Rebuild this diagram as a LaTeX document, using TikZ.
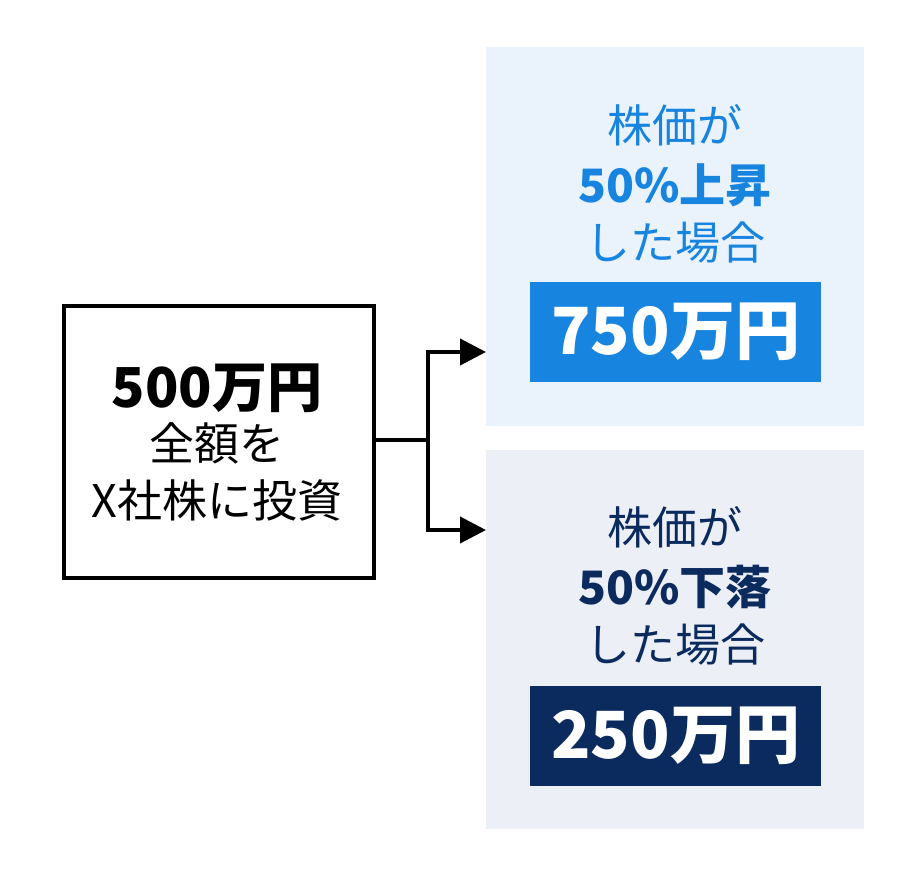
\documentclass[tikz,border=0pt]{standalone}
\usepackage{fontspec}
\setmainfont{Noto Sans CJK JP}
\usetikzlibrary{arrows.meta}
\definecolor{lb}{HTML}{EAF3FC}
\definecolor{lg}{HTML}{ECEFF5}
\definecolor{bl}{HTML}{1784E0}
\definecolor{nv}{HTML}{0B2A5E}
\begin{document}
\begin{tikzpicture}[x=1pt,y=-1pt,
  panel/.style={inner sep=0,minimum width=378,minimum height=379,anchor=north west},
  valbox/.style={inner sep=0,minimum width=291,minimum height=100,anchor=north west,text=white,font=\fontsize{65}{68}\selectfont\bfseries},
  t/.style={font=\fontsize{45}{48}\selectfont},
  tb/.style={font=\fontsize{46}{48}\selectfont\bfseries},
  arr/.style={line width=4,-{Triangle[length=26,width=26]}}]
\useasboundingbox (0,0) rectangle (920,876);
\node[panel,fill=lb] (p1) at (486,47) {};
\node[panel,fill=lg] (p2) at (486,450) {};
\node[valbox,fill=bl] (v1) at (530,282) {750万円};
\node[valbox,fill=nv] (v2) at (530,686) {250万円};
\node[t,text=bl] (a1) at (675,125) {株価が};
\node[tb,text=bl] (b1) at (675,185) {50\%上昇};
\node[t,text=bl] (c1) at (675,243) {した場合};
\node[t,text=nv] (a2) at (675,527) {株価が};
\node[tb,text=nv] (b2) at (675,587) {50\%下落};
\node[t,text=nv] (c2) at (675,645) {した場合};
\node[draw,line width=4,minimum width=310,minimum height=272,anchor=north west,inner sep=0] (L) at (62,304) {};
\node[font=\fontsize{55}{58}\selectfont\bfseries] (l1) at (217,388) {500万円};
\node[t] (l2) at (217,443) {全額を};
\node[t] (l3) at (217,500) {X社株に投資};
\coordinate (j) at (428,440);
\coordinate (j1) at (428,352);
\coordinate (j2) at (428,530);
\draw[line width=4] (L.east |- j) -- (j);
\draw[arr] (j) -- (j1) -- (486,352);
\draw[arr] (j) -- (j2) -- (486,530);
\end{tikzpicture}
\end{document}
